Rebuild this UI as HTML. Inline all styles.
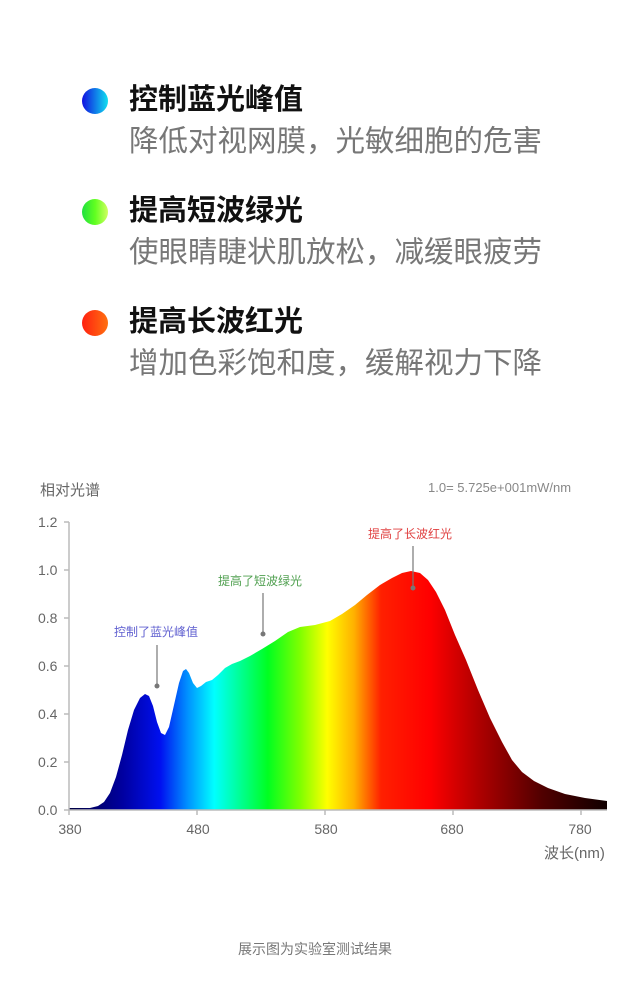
<!DOCTYPE html>
<html><head><meta charset="utf-8"><style>
body{margin:0;width:630px;height:1000px;background:#fff;position:relative;overflow:hidden;font-family:"Liberation Sans","Noto Sans CJK SC",sans-serif}
.dot{position:absolute;left:82px;width:26px;height:26px;border-radius:50%}
.t{position:absolute;left:129px;font-size:29px;font-weight:bold;color:#111;line-height:32px}
.s{position:absolute;left:129px;font-size:29.5px;color:#777;line-height:32px;white-space:nowrap}
</style></head><body>
<div class="dot" style="top:88px;background:linear-gradient(90deg,#1010e0,#10e0f0)"></div>
<div class="t" style="top:84px">控制蓝光峰值</div>
<div class="s" style="top:126px">降低对视网膜，光敏细胞的危害</div>
<div class="dot" style="top:199px;background:linear-gradient(90deg,#20e040,#60ff20,#d0ff60)"></div>
<div class="t" style="top:195px">提高短波绿光</div>
<div class="s" style="top:237px">使眼睛睫状肌放松，减缓眼疲劳</div>
<div class="dot" style="top:310px;background:linear-gradient(90deg,#ff2010,#ff7010)"></div>
<div class="t" style="top:306px">提高长波红光</div>
<div class="s" style="top:348px">增加色彩饱和度，缓解视力下降</div>
<svg style="position:absolute;left:0;top:0" width="630" height="1000" font-family="Liberation Sans, Noto Sans CJK SC, sans-serif">
<defs><linearGradient id="g" x1="69" x2="607" y1="0" y2="0" gradientUnits="userSpaceOnUse">
<stop offset="0" stop-color="#000040"/><stop offset="0.1" stop-color="#0000a0"/><stop offset="0.17" stop-color="#0010f0"/>
<stop offset="0.22" stop-color="#0090ff"/><stop offset="0.27" stop-color="#00ffff"/><stop offset="0.32" stop-color="#00ff90"/>
<stop offset="0.37" stop-color="#00ff20"/><stop offset="0.43" stop-color="#80ff00"/><stop offset="0.48" stop-color="#ffff00"/>
<stop offset="0.53" stop-color="#ffb000"/><stop offset="0.58" stop-color="#ff2000"/><stop offset="0.67" stop-color="#ff0000"/>
<stop offset="0.76" stop-color="#b00000"/><stop offset="0.88" stop-color="#500000"/><stop offset="1" stop-color="#100000"/></linearGradient></defs>
<path fill="url(#g)" stroke-linejoin="round" d="M69,810 L69,808 L90,808 L98,806 L104,802 L110,793 L116,777 L122,755 L128,730 L134,710 L140,698 L145,694 L149,696 L153,706 L157,722 L161,733 L165,735 L169,727 L174,705 L179,683 L183,671 L186,669 L189,673 L193,683 L197,688 L201,686 L206,682 L212,680 L218,675 L225,668 L232,664 L240,661 L250,656 L262,649 L275,641 L288,632 L300,627 L315,625 L330,621 L342,614 L355,605 L367,595 L380,585 L392,578 L402,573 L411,571 L420,573 L428,580 L436,592 L445,610 L455,635 L466,660 L478,690 L490,718 L502,742 L512,760 L522,772 L534,781 L548,788 L565,794 L585,798 L607,801 L607,810 Z"/>
<g stroke="#bbb" stroke-width="1.5" fill="none"><path d="M69,522 V810 H607"/><path d="M64,522h5M64,570h5M64,618h5M64,666h5M64,714h5M64,762h5M64,810h5M69,810v5M197,810v5M325,810v5M453,810v5M581,810v5"/></g>
<g fill="#666" font-size="14"><text x="38" y="527">1.2</text><text x="38" y="575">1.0</text><text x="38" y="623">0.8</text><text x="38" y="671">0.6</text><text x="38" y="719">0.4</text><text x="38" y="767">0.2</text><text x="38" y="815">0.0</text>
<g text-anchor="middle"><text x="70" y="834">380</text><text x="198" y="834">480</text><text x="326" y="834">580</text><text x="452" y="834">680</text><text x="580" y="834">780</text></g>
<text x="544" y="858" font-size="15">波长(nm)</text>
<text x="40" y="495" font-size="15">相对光谱</text>
<text x="428" y="492" font-size="13" fill="#888">1.0= 5.725e+001mW/nm</text></g>
<g font-size="12"><text x="114" y="636" fill="#6060d0">控制了蓝光峰值</text><text x="218" y="585" fill="#50a050">提高了短波绿光</text><text x="368" y="538" fill="#e04040">提高了长波红光</text></g>
<g stroke="#777" stroke-width="1.2"><path d="M157,645V686M263,593V634M413,546V588"/></g>
<g fill="#777"><circle cx="157" cy="686" r="2.5"/><circle cx="263" cy="634" r="2.5"/><circle cx="413" cy="588" r="2.5"/></g>
<text x="315" y="954" font-size="14" fill="#777" text-anchor="middle">展示图为实验室测试结果</text>
</svg>
</body></html>
